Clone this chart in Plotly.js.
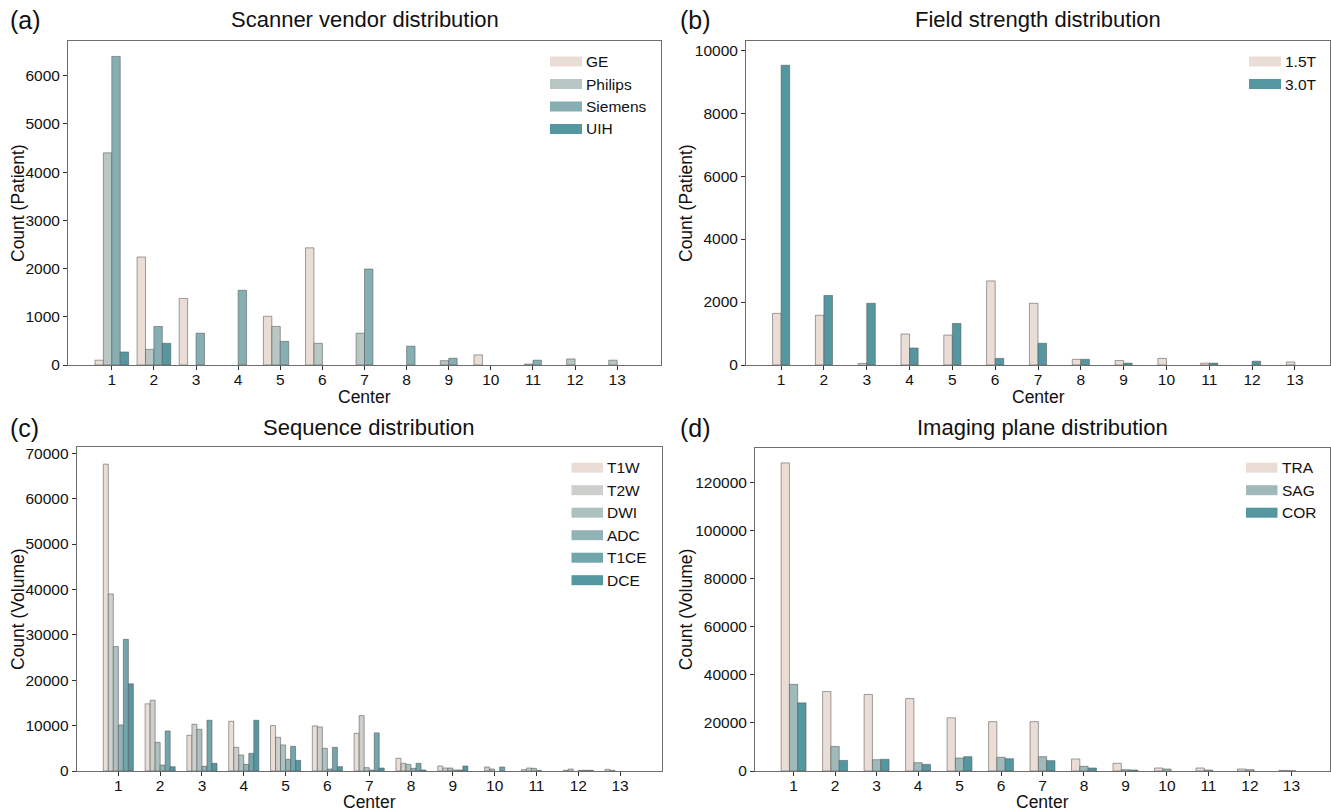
<!DOCTYPE html>
<html>
<head>
<meta charset="utf-8">
<script src="https://cdn.plot.ly/plotly-3.0.1.min.js"></script>
<style>
  html, body { margin: 0; padding: 0; background: #ffffff; }
  #chart { width: 1331px; height: 811px; }
</style>
</head>
<body>
<div id="chart"></div>
<script>
// ---------------- DATA ----------------
const centers = [1, 2, 3, 4, 5, 6, 7, 8, 9, 10, 11, 12, 13];
const centerLabels = ['1', '2', '3', '4', '5', '6', '7', '8', '9', '10', '11', '12', '13'];

// (a) Scanner vendor distribution, Count (Patient)
const vendorNames = ['GE', 'Philips', 'Siemens', 'UIH'];
const vendorGE      = [100, 2240, 1380, 0, 1010, 2430, 0, 0, 0, 210, 0, 0, 0];
const vendorPhilips = [4400, 325, 0, 0, 800, 450, 660, 0, 90, 0, 20, 125, 100];
const vendorSiemens = [6400, 800, 660, 1550, 490, 0, 1990, 390, 140, 0, 100, 0, 0];
const vendorUIH     = [270, 450, 0, 0, 0, 0, 0, 0, 0, 0, 0, 0, 0];

// (b) Field strength distribution, Count (Patient)
const fieldNames = ['1.5T', '3.0T'];
const field15 = [1640, 1580, 50, 985, 950, 2670, 1960, 180, 140, 210, 60, 0, 95];
const field30 = [9520, 2210, 1960, 540, 1320, 210, 690, 180, 60, 0, 60, 120, 0];

// (c) Sequence distribution, Count (Volume)
const seqNames = ['T1W', 'T2W', 'DWI', 'ADC', 'T1CE', 'DCE'];
const seqT1W  = [67600, 14800, 7870, 10950, 10000, 9930, 8300, 2800, 1100, 0, 300, 150, 370];
const seqT2W  = [39000, 15600, 10300, 5220, 7430, 9700, 12200, 1700, 660, 880, 660, 440, 150];
const seqDWI  = [27400, 6320, 9190, 3530, 5740, 5000, 740, 1470, 660, 440, 590, 0, 0];
const seqADC  = [10150, 1320, 1030, 1470, 2570, 440, 200, 590, 220, 0, 150, 150, 0];
const seqT1CE = [29000, 8820, 11180, 3900, 5440, 5220, 8400, 1690, 220, 880, 0, 150, 0];
const seqDCE  = [19200, 960, 1690, 11180, 2350, 960, 660, 220, 1100, 0, 0, 150, 0];

// (d) Imaging plane distribution, Count (Volume)
const planeNames = ['TRA', 'SAG', 'COR'];
const planeTRA = [128000, 33000, 31800, 30100, 22100, 20500, 20500, 5000, 3200, 1250, 1250, 830, 280];
const planeSAG = [36000, 10200, 4700, 3450, 5400, 5700, 5950, 1950, 550, 830, 420, 550, 140];
const planeCOR = [28300, 4400, 4850, 2750, 5950, 5100, 4300, 1250, 420, 0, 0, 0, 0];

// ---------------- STYLE ----------------
const W = 1331, H = 811;
const FONT = 'Liberation Sans, Arial, Helvetica, sans-serif';
const EDGE = 'rgba(85,85,85,0.55)';
const pal4 = ['#EADDD6', '#B8C6C4', '#87AEB3', '#5597A1'];
const pal2 = ['#EADDD6', '#5597A1'];
const pal6 = ['#EADDD6', '#CCCFCB', '#AEC1C1', '#91B3B6', '#73A5AC', '#5597A1'];
const pal3 = ['#EADDD6', '#A0BABC', '#5597A1'];

const px = x => x / W;
const py = y => 1 - y / H;

// panel boxes in pixels: [left, right, top, bottom]
const boxes = {
  a: [68, 661, 41, 365],
  b: [746, 1330, 41, 365],
  c: [76.7, 661.7, 447, 771],
  d: [755, 1330, 447.5, 771]
};

const traces = [];
function addGroup(seriesList, names, colors, barW, xa, ya) {
  const n = seriesList.length;
  seriesList.forEach((vals, k) => {
    traces.push({
      type: 'bar',
      x: centers,
      y: vals.map(v => (v === 0 ? null : v)),
      name: names[k],
      width: barW,
      offset: -n * barW / 2 + k * barW,
      marker: { color: colors[k], line: { color: EDGE, width: 1 } },
      xaxis: xa, yaxis: ya,
      showlegend: false,
      hoverinfo: 'x+y+name'
    });
  });
}
addGroup([vendorGE, vendorPhilips, vendorSiemens, vendorUIH], vendorNames, pal4, 0.2, 'x', 'y');
addGroup([field15, field30], fieldNames, pal2, 0.2, 'x2', 'y2');
addGroup([seqT1W, seqT2W, seqDWI, seqADC, seqT1CE, seqDCE], seqNames, pal6, 0.12, 'x3', 'y3');
addGroup([planeTRA, planeSAG, planeCOR], planeNames, pal3, 0.2, 'x4', 'y4');

function xAxis(box, range, anchor) {
  return {
    domain: [px(box[0]), px(box[1])],
    range: range,
    anchor: anchor,
    tickmode: 'array', tickvals: centers, ticktext: centerLabels,
    ticks: 'outside', ticklen: 4, tickwidth: 1, tickcolor: '#333',
    ticklabelstandoff: -4,
    tickfont: { family: FONT, size: 15.5, color: '#111' },
    showline: true, mirror: true, linecolor: '#6e6e6e', linewidth: 1,
    showgrid: false, zeroline: false, fixedrange: true
  };
}
function yAxis(box, range, dtick, anchor) {
  return {
    domain: [py(box[3]), py(box[2])],
    range: range,
    anchor: anchor,
    tick0: 0, dtick: dtick, tickformat: 'd',
    ticks: 'outside', ticklen: 4, tickwidth: 1, tickcolor: '#333',
    tickfont: { family: FONT, size: 15.5, color: '#111' },
    showline: true, mirror: true, linecolor: '#6e6e6e', linewidth: 1,
    showgrid: false, zeroline: false, fixedrange: true
  };
}

const annotations = [];
const shapes = [];
function text(x, y, t, size, opts) {
  annotations.push(Object.assign({
    xref: 'paper', yref: 'paper', x: px(x), y: py(y), text: t, showarrow: false,
    font: { family: FONT, size: size, color: '#111' },
    xanchor: 'center', yanchor: 'middle'
  }, opts || {}));
}
function panelText(box, letter, letterX, title, ytitle, yTitleX, xTitleY, titleY) {
  text(letterX, titleY, letter, 25, { xanchor: 'left' });
  text((box[0] + box[1]) / 2, titleY, title, 22);
  text(yTitleX, (box[2] + box[3]) / 2, ytitle, 17.5, { textangle: -90 });
  text((box[0] + box[1]) / 2, xTitleY, 'Center', 17.5);
}
panelText(boxes.a, '(a)', 8, 'Scanner vendor distribution', 'Count (Patient)', 18, 397, 20);
panelText(boxes.b, '(b)', 678, 'Field strength distribution', 'Count (Patient)', 686, 397, 20);
panelText(boxes.c, '(c)', 8, 'Sequence distribution', 'Count (Volume)', 18, 802, 428);
panelText(boxes.d, '(d)', 678, 'Imaging plane distribution', 'Count (Volume)', 686, 802, 428);

// legends (swatch left, swatch right, text x, first row y)
function legend(names, colors, sx0, sx1, tx, y0) {
  const step = 22.5;
  names.forEach((nm, k) => {
    const yc = y0 + k * step;
    shapes.push({
      type: 'rect', xref: 'paper', yref: 'paper',
      x0: px(sx0), x1: px(sx1), y0: py(yc + 5), y1: py(yc - 5),
      fillcolor: colors[k], line: { width: 0 }
    });
    text(tx, yc, nm, 15.5, { xanchor: 'left' });
  });
}
legend(vendorNames, pal4, 550, 582, 584, 61.5);
legend(fieldNames, pal2, 1249, 1281, 1283, 61.5);
legend(seqNames, pal6, 571.5, 603, 605, 467.7);
legend(planeNames, pal3, 1246, 1277.5, 1279.5, 467.7);

const layout = {
  width: W, height: H,
  margin: { l: 0, r: 0, t: 0, b: 0 },
  paper_bgcolor: '#ffffff', plot_bgcolor: '#ffffff',
  title: { text: '' },
  font: { family: FONT, color: '#111' },
  barmode: 'overlay',
  showlegend: false,
  xaxis: xAxis(boxes.a, [-0.04, 14.04], 'y'),
  yaxis: yAxis(boxes.a, [0, 6720], 1000, 'x'),
  xaxis2: xAxis(boxes.b, [0.18, 13.82], 'y2'),
  yaxis2: yAxis(boxes.b, [0, 10290], 2000, 'x2'),
  xaxis3: xAxis(boxes.c, [0.004, 13.996], 'y3'),
  yaxis3: yAxis(boxes.c, [0, 71370], 10000, 'x3'),
  xaxis4: xAxis(boxes.d, [0.07, 13.93], 'y4'),
  yaxis4: yAxis(boxes.d, [0, 134400], 20000, 'x4'),
  annotations: annotations,
  shapes: shapes
};

Plotly.newPlot('chart', traces, layout, { displayModeBar: false, staticPlot: true });
</script>
</body>
</html>
